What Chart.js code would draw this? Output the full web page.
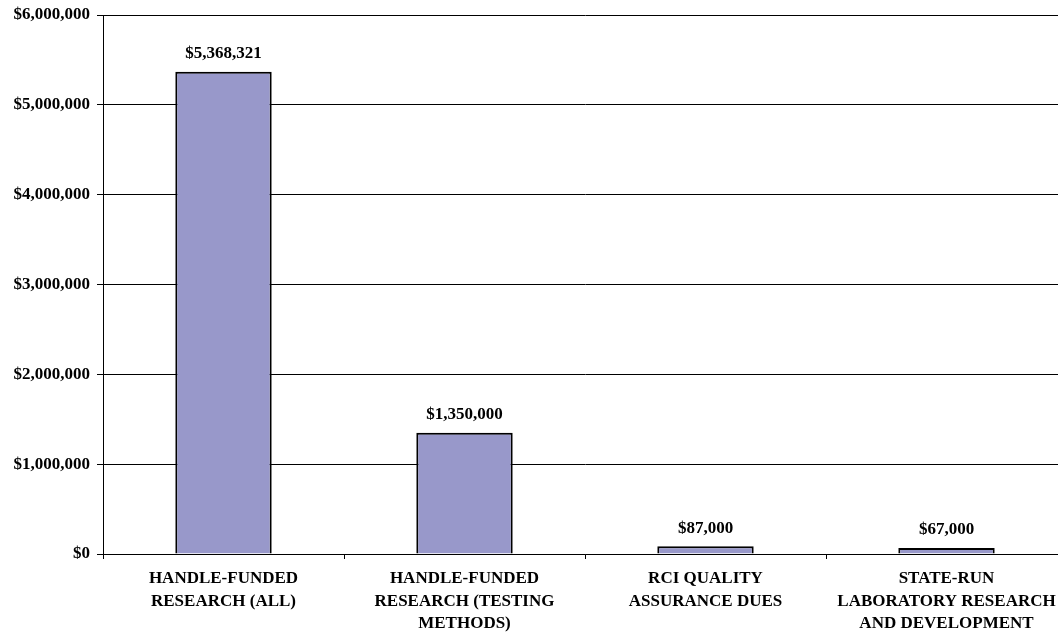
<!DOCTYPE html>
<html>
<head>
<meta charset="utf-8">
<script src="https://cdn.jsdelivr.net/npm/chart.js@4/dist/chart.umd.min.js"></script>
<style>
    html, body { margin: 0; padding: 0; background: #fff; overflow: hidden; }
    .chart-box { position: relative; width: 1068px; height: 635px; }
</style>
</head>
<body>
<div class="chart-box"><canvas id="fundingChart"></canvas></div>
<script>
// Funding sources
const categories = [
    ['HANDLE-FUNDED', 'RESEARCH (ALL)'],
    ['HANDLE-FUNDED', 'RESEARCH (TESTING', 'METHODS)'],
    ['RCI QUALITY', 'ASSURANCE DUES'],
    ['STATE-RUN', 'LABORATORY RESEARCH', 'AND DEVELOPMENT']
];
const amounts = [5368321, 1350000, 87000, 67000];
const yTicks = [0, 1000000, 2000000, 3000000, 4000000, 5000000, 6000000];

const serif = '"Liberation Serif", "Times New Roman", serif';
const money = v => '$' + v.toLocaleString('en-US');

// Value labels above each bar
const valueLabels = {
    id: 'valueLabels',
    afterDatasetsDraw(chart) {
        const ctx = chart.ctx;
        const meta = chart.getDatasetMeta(0);
        ctx.save();
        ctx.font = 'bold 17px ' + serif;
        ctx.fillStyle = '#000';
        ctx.textAlign = 'center';
        ctx.textBaseline = 'middle';
        meta.data.forEach((bar, i) => {
            ctx.fillText(money(amounts[i]), bar.x, bar.y - 18);
        });
        ctx.restore();
    }
};

new Chart(document.getElementById('fundingChart'), {
    type: 'bar',
    data: {
        labels: categories,
        datasets: [{
            data: amounts,
            backgroundColor: '#9898CA',
            borderColor: '#000',
            borderWidth: 2,
            categoryPercentage: 1,
            barPercentage: 0.4
        }]
    },
    options: {
        responsive: true,
        maintainAspectRatio: false,
        animation: false,
        layout: { padding: { top: 15, right: 1, left: 0, bottom: 0 } },
        plugins: {
            legend: { display: false },
            tooltip: { enabled: false }
        },
        scales: {
            x: {
                offset: true,
                grid: {
                    offset: true,
                    drawOnChartArea: false,
                    drawTicks: true,
                    tickLength: 5,
                    color: '#000',
                    lineWidth: 1
                },
                border: { color: '#000', width: 1 },
                ticks: {
                    color: '#000',
                    padding: 9,
                    maxRotation: 0,
                    autoSkip: false,
                    font: { family: serif, size: 17, weight: 'bold', lineHeight: 1.3 }
                },
                afterFit(scale) { scale.height = 81; }
            },
            y: {
                min: 0,
                max: 6000000,
                afterBuildTicks(scale) {
                    scale.ticks = yTicks.map(v => ({ value: v }));
                },
                grid: {
                    color: '#000',
                    lineWidth: 1,
                    drawTicks: true,
                    tickLength: 6
                },
                border: { color: '#000', width: 1 },
                ticks: {
                    color: '#000',
                    padding: 7,
                    font: { family: serif, size: 17, weight: 'bold' },
                    callback: v => money(v)
                },
                afterFit(scale) {
                    scale.width = 103;
                    scale.paddingTop = 0;
                    scale.paddingBottom = 0;
                }
            }
        }
    },
    plugins: [valueLabels]
});
</script>
</body>
</html>
